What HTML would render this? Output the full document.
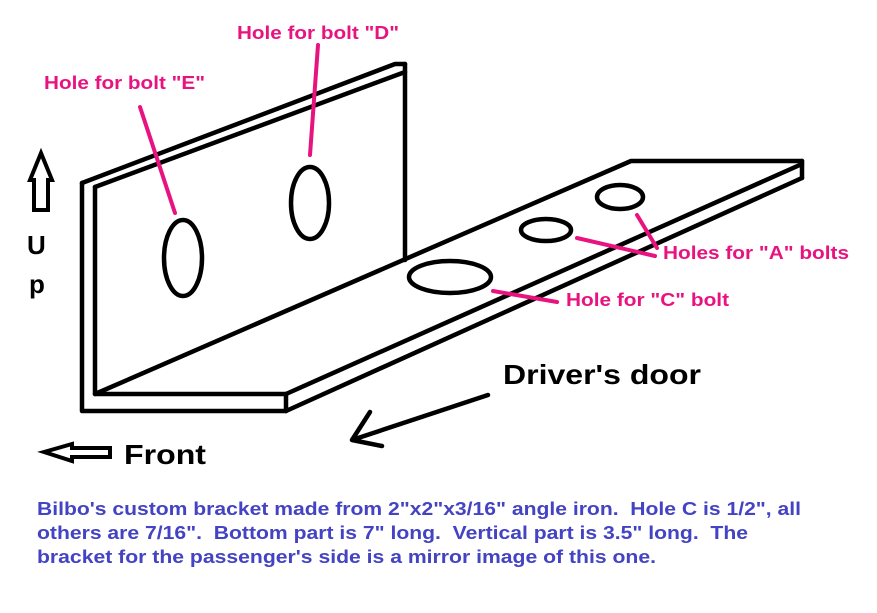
<!DOCTYPE html>
<html><head><style>
body{margin:0;background:#fff;width:877px;height:613px;overflow:hidden}
svg{position:absolute;left:0;top:0}
text{font-family:"Liberation Sans",Arial,sans-serif;font-weight:bold;white-space:pre}
</style></head><body>
<svg width="877" height="613" viewBox="0 0 877 613">
<g fill="none" stroke="#000" stroke-width="4.5" stroke-linejoin="round" stroke-linecap="round">
<path d="M82,183 L82,411 L286,411"/>
<path d="M95,187 L95,394 L286,394"/>
<path d="M82,183 L395,64 L405,64"/>
<path d="M95,187 L405,72"/>
<path d="M405,64 L405,260"/>
<path d="M95,394 L631,161 L802,161"/>
<path d="M286,394 L802,164"/>
<path d="M286,411 L802,178"/>
<path d="M802,161 L802,178"/>
<path d="M286,394 L286,411"/>
<ellipse cx="183" cy="258" rx="19" ry="38"/>
<ellipse cx="310" cy="203" rx="19" ry="36"/>
<ellipse cx="450" cy="277" rx="41" ry="16"/>
<ellipse cx="546" cy="230" rx="25" ry="11"/>
<ellipse cx="620" cy="197" rx="23" ry="12"/>
<path d="M488,395 L352,440 M352,440 L370,412 M352,440 L382,446"/>
</g>
<g fill="none" stroke="#000" stroke-width="4" stroke-linejoin="miter">
<path d="M41,153 L52,180 L48,180 L48,210 L34,210 L34,180 L30,180 Z"/>
<path d="M44,452 L72,444 L72,448 L110,448 L110,457 L72,457 L72,461 Z"/>
</g>
<g stroke="#e8137f" stroke-width="4" stroke-linecap="round">
<path d="M140,107 L175,213"/>
<path d="M318,45 L310,155"/>
<path d="M493,291 L557,302"/>
<path d="M577,238 L655,256"/>
<path d="M637,215 L657,248"/>
</g>
<g fill="#e8137f" font-size="18">
<text x="237" y="39" textLength="162" lengthAdjust="spacingAndGlyphs">Hole for bolt "D"</text>
<text x="44" y="89" textLength="161" lengthAdjust="spacingAndGlyphs">Hole for bolt "E"</text>
<text x="663" y="259" textLength="186" lengthAdjust="spacingAndGlyphs">Holes for "A" bolts</text>
<text x="566" y="306" textLength="163" lengthAdjust="spacingAndGlyphs">Hole for "C" bolt</text>
</g>
<g fill="#000">
<text x="27" y="254" font-size="26">U</text>
<text x="29" y="293" font-size="26">p</text>
<text x="124" y="464" font-size="28" textLength="82" lengthAdjust="spacingAndGlyphs">Front</text>
<text x="503" y="384" font-size="28" textLength="198" lengthAdjust="spacingAndGlyphs">Driver's door</text>
</g>
<g fill="#4343c3" font-size="18">
<text x="37" y="515" textLength="764" lengthAdjust="spacingAndGlyphs">Bilbo's custom bracket made from 2"x2"x3/16" angle iron.  Hole C is 1/2", all</text>
<text x="37" y="539" textLength="711" lengthAdjust="spacingAndGlyphs">others are 7/16".  Bottom part is 7" long.  Vertical part is 3.5" long.  The</text>
<text x="37" y="563" textLength="619" lengthAdjust="spacingAndGlyphs">bracket for the passenger's side is a mirror image of this one.</text>
</g>
</svg>
</body></html>
